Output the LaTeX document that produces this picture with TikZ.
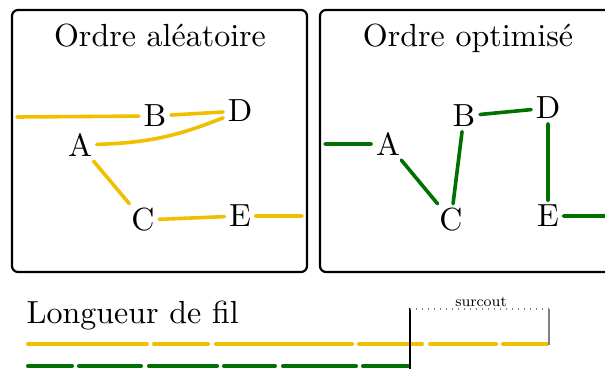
\documentclass[tikz,border=0pt]{standalone}
\usetikzlibrary{positioning}
\definecolor{jaune}{RGB}{240,192,0}
\definecolor{vert}{RGB}{0,112,0}

\begin{document}
\begin{tikzpicture}[x=0.5pt, y=-0.5pt,
    lettre/.style={inner sep=1.25pt, scale=1.6, font=\fontsize{10}{12}\selectfont},
    titre/.style={anchor=base, inner sep=0pt, scale=1.6, font=\fontsize{10}{12}\selectfont},
    cadre/.style={line width=1.1pt, rounded corners=3pt},
    filj/.style={jaune, line width=1.8pt, line cap=round},
    filv/.style={vert, line width=1.8pt, line cap=round}]
    \clip (0,0) rectangle (605,369);
    \draw[cadre] (12,10) rectangle (307,272);
    \draw[cadre] (320,10) rectangle (615,272);
    \node[titre] (t1) at (160,47) {Ordre aléatoire};
    \node[titre] (t2) at (468,47) {Ordre optimisé};

    \node[lettre] (A1) at (80,145) {A};
    \node[lettre] (B1) at (155,116) {B};
    \node[lettre] (D1) at (240,111) {D};
    \node[lettre] (C1) at (143,220) {C};
    \node[lettre] (E1) at (240,216) {E};
    \coordinate (in1) at (17,117);
    \coordinate (out1) at (302,216);
    \draw[filj] (in1) -- (B1);
    \draw[filj] (B1) -- (D1);
    \draw[filj] (A1) to[bend right=10] (D1);
    \draw[filj] (A1) -- (C1);
    \draw[filj] (C1) -- (E1);
    \draw[filj] (E1) -- (out1);

    \node[lettre] (A2) at (388,144) {A};
    \node[lettre] (B2) at (464,116) {B};
    \node[lettre] (D2) at (548,108) {D};
    \node[lettre] (C2) at (451,220) {C};
    \node[lettre] (E2) at (548,216) {E};
    \coordinate (in2) at (325,144);
    \coordinate (out2) at (620,216);
    \draw[filv] (in2) -- (A2);
    \draw[filv] (A2) -- (C2);
    \draw[filv] (C2) -- (B2);
    \draw[filv] (B2) -- (D2);
    \draw[filv] (D2) -- (E2);
    \draw[filv] (E2) -- (out2);

    \node[titre, anchor=base west] (lg) at (26,323) {Longueur de fil};
    \foreach \a/\b in {26/149, 152/210, 214/354, 357/424, 428/498, 501/549}
        \draw[filj] (\a+1.8,344) -- (\b-1.8,344);
    \foreach \a/\b in {26/74, 77/143, 147/219, 222/277, 281/358, 361/410}
        \draw[filv] (\a+1.8,366) -- (\b-1.8,366);
    \draw[line width=0.6pt] (410,308) -- (410,369);
    \draw[gray, line width=0.6pt, dash pattern=on 0.6pt off 2.4pt] (410,309) -- (549,309);
    \draw[gray, line width=0.8pt] (549,309) -- (549,345);
    \node[anchor=south, inner sep=1pt, font=\fontsize{7.5}{9}\selectfont] (sc) at (481,309) {surcout};
\end{tikzpicture}
\end{document}
